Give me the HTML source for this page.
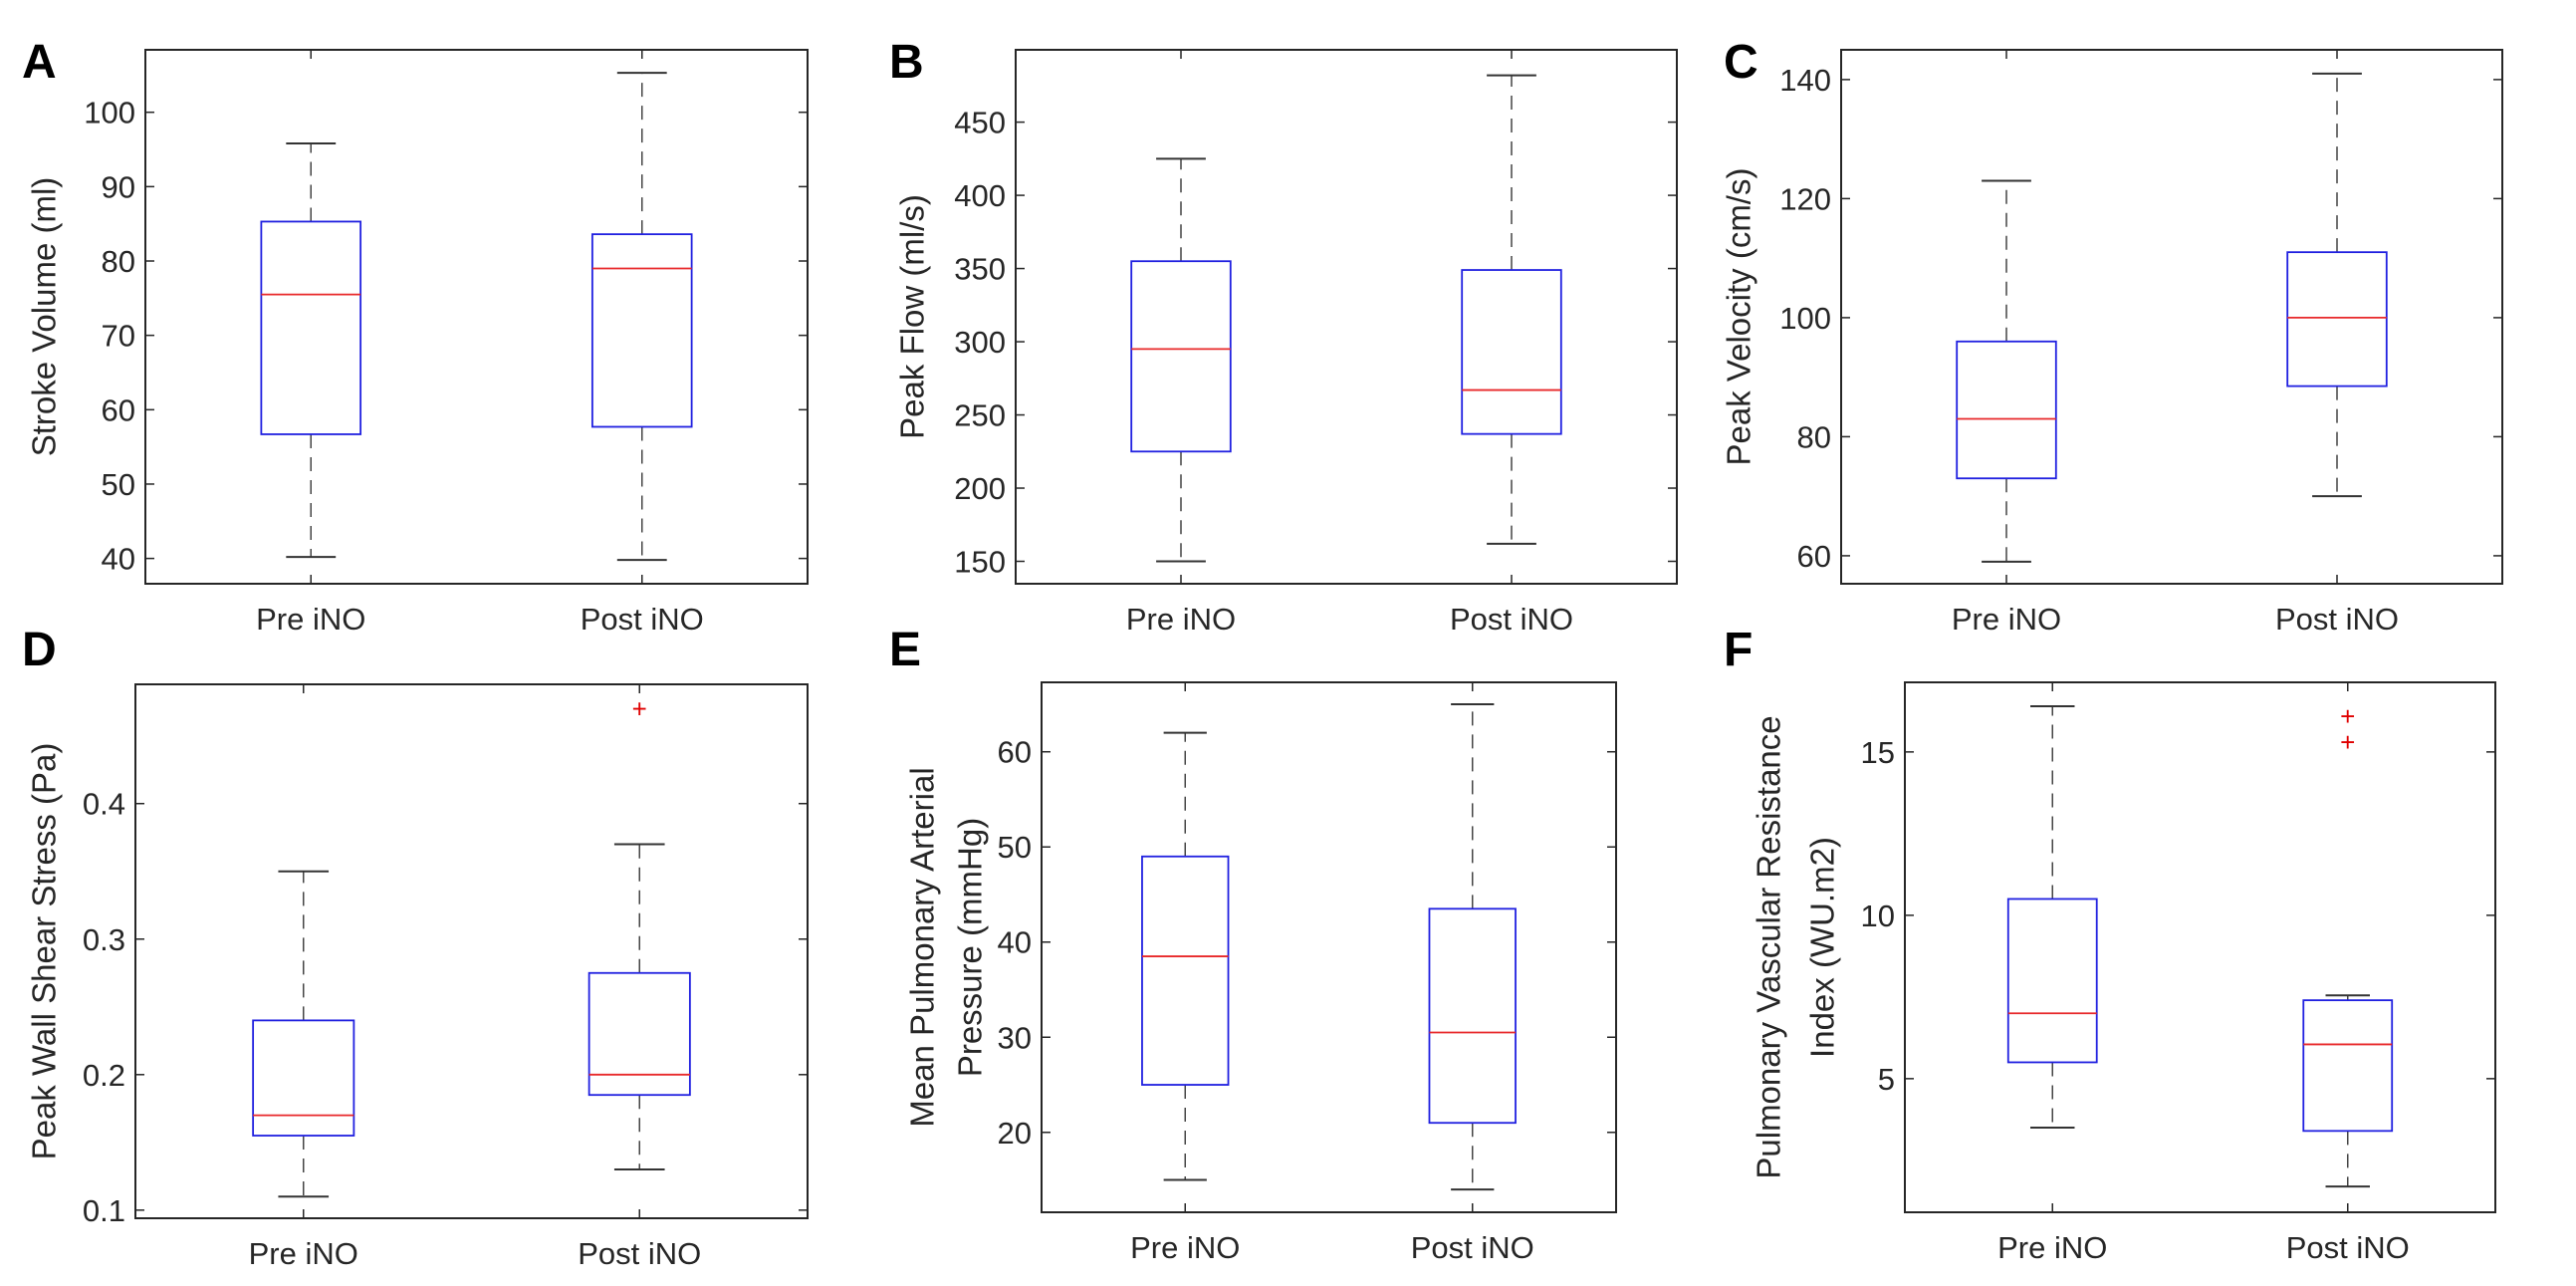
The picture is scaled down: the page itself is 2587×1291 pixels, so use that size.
<!DOCTYPE html>
<html><head><meta charset="utf-8">
<style>
html,body{margin:0;padding:0;background:#fff;}
svg{display:block;font-family:"Liberation Sans",Arial,sans-serif;}
</style></head>
<body>
<svg id="fig" width="2587" height="1291" viewBox="0 0 2587 1291" xmlns="http://www.w3.org/2000/svg"></svg>
<script>
// ----- data arrays -----
const categories = ["Pre iNO", "Post iNO"];
// each box: [min, q1, median, q3, max]
const strokeVolume = [[40.2, 56.7, 75.5, 85.3, 95.8], [39.8, 57.7, 79.0, 83.6, 105.3]];
const peakFlow = [[150, 225, 295, 355, 425], [162, 237, 267, 349, 482]];
const peakVelocity = [[59, 73, 83, 96, 123], [70, 88.5, 100, 111, 141]];
const wallShear = [[0.11, 0.155, 0.17, 0.24, 0.35], [0.13, 0.185, 0.2, 0.275, 0.37]];
const wallShearOutliers = [[], [0.47]];
const mpap = [[15, 25, 38.5, 49, 62], [14, 21, 30.5, 43.5, 65]];
const pvri = [[3.5, 5.5, 7.0, 10.5, 16.4], [1.7, 3.4, 6.05, 7.4, 7.55]];
const pvriOutliers = [[], [16.1, 15.3]];
const ticksA = [40, 50, 60, 70, 80, 90, 100];
const ticksB = [150, 200, 250, 300, 350, 400, 450];
const ticksC = [60, 80, 100, 120, 140];
const ticksD = [0.1, 0.2, 0.3, 0.4];
const ticksE = [20, 30, 40, 50, 60];
const ticksF = [5, 10, 15];
const tickLabelsD = ["0.1", "0.2", "0.3", "0.4"];

// ----- layout (not data) -----
const panels = [
  {key:"a", letter:"A", lx:22, ly:78, box:[146,50,811,586], dom:[36.6,108.4], data:strokeVolume, out:[[],[]], ticks:ticksA, labels:null, ylab:["Stroke Volume (ml)"], ylx:[44]},
  {key:"b", letter:"B", lx:893, ly:78, box:[1020,50,1684,586], dom:[134.7,499.4], data:peakFlow, out:[[],[]], ticks:ticksB, labels:null, ylab:["Peak Flow (ml/s)"], ylx:[916]},
  {key:"c", letter:"C", lx:1731, ly:78, box:[1849,50,2513,586], dom:[55.3,145], data:peakVelocity, out:[[],[]], ticks:ticksC, labels:null, ylab:["Peak Velocity (cm/s)"], ylx:[1746]},
  {key:"d", letter:"D", lx:22, ly:668, box:[136,687,811,1223], dom:[0.094,0.488], data:wallShear, out:wallShearOutliers, ticks:ticksD, labels:tickLabelsD, ylab:["Peak Wall Shear Stress (Pa)"], ylx:[44]},
  {key:"e", letter:"E", lx:893, ly:668, box:[1046,685,1623,1217], dom:[11.6,67.3], data:mpap, out:[[],[]], ticks:ticksE, labels:null, ylab:["Mean Pulmonary Arterial","Pressure (mmHg)"], ylx:[926,974]},
  {key:"f", letter:"F", lx:1731, ly:668, box:[1913,685,2506,1217], dom:[0.91,17.13], data:pvri, out:pvriOutliers, ticks:ticksF, labels:null, ylab:["Pulmonary Vascular Resistance","Index (WU.m2)"], ylx:[1776,1830]}
];

const NS = "http://www.w3.org/2000/svg";
const svg = document.getElementById('fig');
function mk(tag, attrs, parent){
  const e = document.createElementNS(NS, tag);
  for (const k in attrs) e.setAttribute(k, attrs[k]);
  parent.appendChild(e);
  return e;
}

panels.forEach(p => {
  const [x0,y0,x1,y1] = p.box;
  const g = mk('g', {}, svg);
  
  
  const yScale = v => y1 - (v - p.dom[0]) / (p.dom[1] - p.dom[0]) * (y1 - y0);
  const xc = i => x0 + (x1 - x0) * (0.25 + 0.5 * i);
  const bw = (x1 - x0) * 0.075;

  const L = mk('text', {x:p.lx, y:p.ly, 'font-size':48, 'font-weight':'bold', fill:'#000'}, g);
  L.textContent = p.letter;
  
  

  const fr = mk('rect', {x:x0, y:y0, width:x1-x0, height:y1-y0, fill:'none', stroke:'#262626', 'stroke-width':2}, g);
  
  

  p.ticks.forEach((t, k) => {
    const y = yScale(t);
    mk('line', {x1:x0, x2:x0+9, y1:y, y2:y, stroke:'#262626', 'stroke-width':1.5}, g);
    mk('line', {x1:x1, x2:x1-9, y1:y, y2:y, stroke:'#262626', 'stroke-width':1.5}, g);
    const tl = mk('text', {x:x0-10, y:y+11, 'font-size':31, 'text-anchor':'end', fill:'#262626'}, g);
    tl.textContent = p.labels ? p.labels[k] : String(t);
    
    
  });

  const cy = (y0 + y1) / 2;
  p.ylab.forEach((s, k) => {
    const yl = mk('text', {x:0, y:0, 'font-size':33, 'text-anchor':'middle', fill:'#262626',
      transform:'translate(' + p.ylx[k] + ',' + cy + ') rotate(-90)', 'dominant-baseline':'central'}, g);
    yl.textContent = s;
    
    
  });

  categories.forEach((c, i) => {
    const x = xc(i);
    mk('line', {x1:x, x2:x, y1:y1, y2:y1-9, stroke:'#262626', 'stroke-width':1.5}, g);
    mk('line', {x1:x, x2:x, y1:y0, y2:y0+9, stroke:'#262626', 'stroke-width':1.5}, g);
    const cl = mk('text', {x:x, y:y1+46, 'font-size':31, 'text-anchor':'middle', fill:'#262626'}, g);
    cl.textContent = c;
    
    

    const [mn, q1, md, q3, mx] = p.data[i];
    const bg = mk('g', {}, g);
    
    
    mk('line', {x1:x, x2:x, y1:yScale(q3), y2:yScale(mx), stroke:'#444', 'stroke-width':1.5, 'stroke-dasharray':'14 9'}, bg);
    mk('line', {x1:x, x2:x, y1:yScale(q1), y2:yScale(mn), stroke:'#444', 'stroke-width':1.5, 'stroke-dasharray':'14 9'}, bg);
    mk('line', {x1:x-bw/2, x2:x+bw/2, y1:yScale(mx), y2:yScale(mx), stroke:'#333', 'stroke-width':2}, bg);
    mk('line', {x1:x-bw/2, x2:x+bw/2, y1:yScale(mn), y2:yScale(mn), stroke:'#333', 'stroke-width':2}, bg);
    mk('rect', {x:x-bw, y:yScale(q3), width:2*bw, height:yScale(q1)-yScale(q3), fill:'none', stroke:'#2020e0', 'stroke-width':1.8}, bg);
    mk('line', {x1:x-bw, x2:x+bw, y1:yScale(md), y2:yScale(md), stroke:'#e8282a', 'stroke-width':1.8}, bg);
    p.out[i].forEach(v => {
      const o = mk('text', {x:x, y:yScale(v)+9, 'font-size':26, 'text-anchor':'middle', fill:'#e00000'}, bg);
      o.textContent = '+';
      
      
    });
  });
});
</script>
</body></html>
